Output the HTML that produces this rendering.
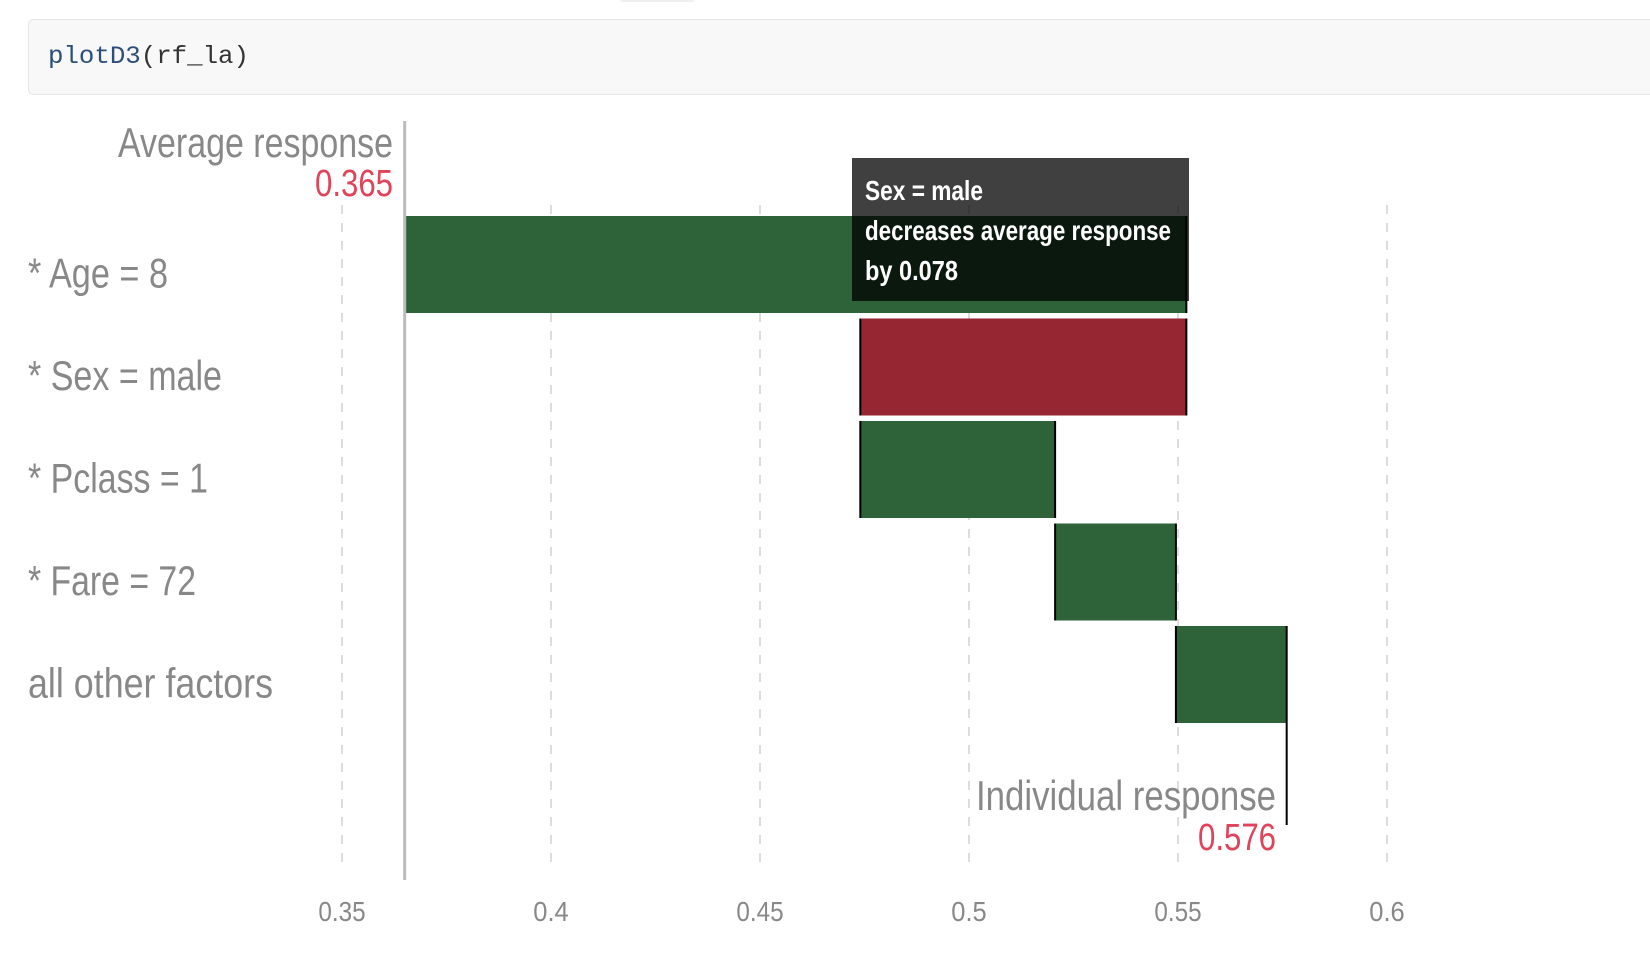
<!DOCTYPE html>
<html><head><meta charset="utf-8"><style>
html,body{margin:0;padding:0;background:#fff;width:1650px;height:956px;overflow:hidden}
svg{display:block}
.cond{font-family:"Liberation Sans",sans-serif}
</style></head><body>
<svg id="chart" width="1650" height="956">
<rect x="620" y="-4" width="75" height="6" rx="3" fill="#f0f0f0"/>
<g>
<rect x="28.5" y="19.5" width="1640" height="75" rx="5" fill="#f8f8f8" stroke="#e6e6e6"/>
<text x="48" y="63" font-family="'Liberation Mono',monospace" font-size="25" textLength="201" lengthAdjust="spacingAndGlyphs"><tspan fill="#2b4f7a">plotD3</tspan><tspan fill="#333">(rf_la)</tspan></text>
</g>
<g id="grid"></g>
<g id="bars"></g>
<g id="labels"></g>
</svg>
<script>
const categories = ["* Age = 8","* Sex = male","* Pclass = 1","* Fare = 72","all other factors"];
const contributions = [0.187,-0.078,0.0466,0.0289,0.0265];
const baseline = 0.365;
const finalValue = 0.576;
const ticks = [0.35,0.4,0.45,0.5,0.55,0.6];
const tickLabels = ["0.35","0.4","0.45","0.5","0.55","0.6"];

const NS="http://www.w3.org/2000/svg";
const x = v => 342 + (v-0.35)*4180;
const rowTop = i => 216 + i*102.5;
const barH = 97;
// approximate condensed-font width: px per character at given size
const condW = (s,size) => s.length*size*0.395;
function mk(tag, attrs, parent){const e=document.createElementNS(NS,tag);for(const k in attrs)e.setAttribute(k,attrs[k]);parent.appendChild(e);return e;}
function fit(t,w){t.setAttribute('textLength',w);t.setAttribute('lengthAdjust','spacingAndGlyphs');}
const grid=document.getElementById('grid'), bars=document.getElementById('bars'), labels=document.getElementById('labels');

ticks.forEach((t,i)=>{
  const l=mk('line',{x1:x(t),x2:x(t),y1:205,y2:868,stroke:'#ddd','stroke-width':2,'stroke-dasharray':'9,9'},grid);
  
  
  const tx=mk('text',{x:x(t),y:921,'text-anchor':'middle','font-size':28,fill:'#888',class:'cond'},grid);
  
  
  tx.textContent=tickLabels[i];
  fit(tx, tickLabels[i].length*11.8);
});

let cur=baseline;
const rowW=[140,194,180,168,245];
contributions.forEach((c,i)=>{
  const a=cur, b=cur+c;
  const r=mk('rect',{x:Math.min(x(a),x(b)),y:rowTop(i),width:Math.abs(x(b)-x(a)),height:barH,fill:c>=0?'#2e6239':'#952632'},bars);
  
  
  const e=mk('line',{x1:x(b),x2:x(b),y1:rowTop(i),y2:rowTop(i)+barH,stroke:'#000','stroke-width':2},bars);
  
  
  if(i>0){const s=mk('line',{x1:x(a),x2:x(a),y1:rowTop(i),y2:rowTop(i)+barH,stroke:'#000','stroke-width':2},bars);
  
  }
  const t=mk('text',{x:28,y:rowTop(i)+barH/2+23,'font-size':42,fill:'#888',class:'cond'},labels);
  
  
  t.textContent=categories[i];
  fit(t,rowW[i]);
  cur=b;
});
const ax=mk('line',{x1:x(baseline),x2:x(baseline),y1:121,y2:880,stroke:'#bbb','stroke-width':3},bars);


const fl=mk('line',{x1:x(finalValue),x2:x(finalValue),y1:rowTop(4)+barH,y2:825,stroke:'#000','stroke-width':2},bars);



function txt(s,xx,yy,size,fill,anchor,name,w){const t=mk('text',{x:xx,y:yy,'font-size':size,fill:fill,'text-anchor':anchor,class:'cond'},labels);


t.textContent=s;fit(t,w);return t;}
txt('Average response',393,157,42,'#888','end','average-response-label',275);
txt(baseline.toFixed(3),393,196,38,'#e0435a','end','average-response-value',78);
txt('Individual response',1276,810,42,'#888','end','individual-response-label',300);
txt(finalValue.toFixed(3),1276,850,38,'#e0435a','end','individual-response-value',78);

const tip=mk('g',{},labels);


mk('rect',{x:852,y:158,width:337,height:143,fill:'rgba(0,0,0,0.75)'},tip);
const lines=['Sex = male','decreases average response','by '+Math.abs(contributions[1]).toFixed(3)];
const lineW=[118,306,93];
lines.forEach((s,i)=>{const t=mk('text',{x:865,y:200+i*40,'font-size':28,fill:'#fff',class:'cond','font-weight':'bold'},tip);


t.textContent=s;fit(t,lineW[i]);});
</script>
</body></html>
